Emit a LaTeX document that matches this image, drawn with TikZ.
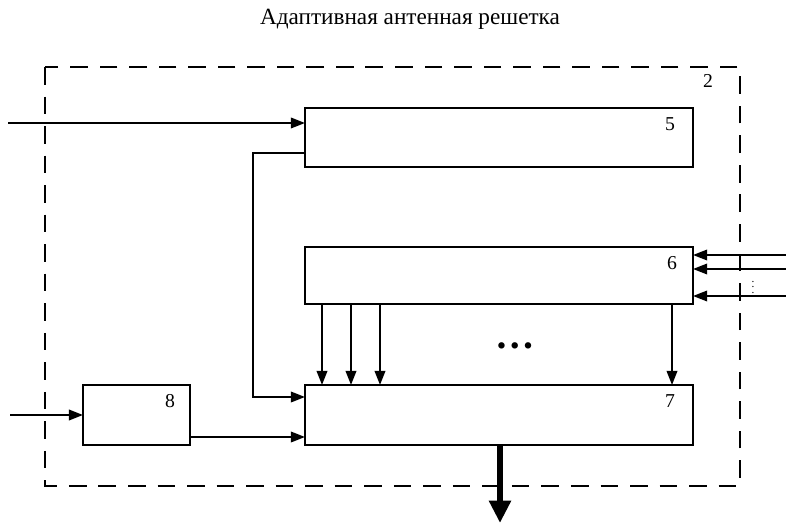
\documentclass[tikz,border=0pt]{standalone}
\usepackage{fontspec}
\setmainfont{Liberation Serif}
\usetikzlibrary{calc,arrows.meta}

\begin{document}
\begin{tikzpicture}[x=0.025cm,y=-0.025cm,
    blk/.style={draw,line width=1.4pt,inner sep=0pt,outer sep=0pt},
    num/.style={font=\fontsize{14}{16}\selectfont},
    arr/.style={line width=1.3pt,-{Triangle[length=10pt,width=7.5pt]}},
    bigarr/.style={line width=4pt,-{Triangle[length=16pt,width=15pt]}}]
    \useasboundingbox (0,0) rectangle (786,523);
    % title and dashed outline
    \node[font=\fontsize{16.5}{18}\selectfont] (title) at (410,19) {Адаптивная антенная решетка};
    \coordinate (frA) at (45,67);
    \coordinate (frB) at (740,486);
    \draw[line width=1.5pt,dash pattern=on 12.5pt off 8.5pt] (frA) rectangle (frB);
    \node[num] (n2) at (708,81) {2};
    % blocks
    \node[blk,minimum width=9.7cm,minimum height=1.475cm] (b5) at (499,137.5) {};
    \node[blk,minimum width=9.7cm,minimum height=1.425cm] (b6) at (499,275.5) {};
    \node[blk,minimum width=9.7cm,minimum height=1.5cm] (b7) at (499,415) {};
    \node[blk,minimum width=2.675cm,minimum height=1.5cm] (b8) at (136.5,415) {};
    \node[num] (n5) at (670,124) {5};
    \node[num] (n6) at (672,263) {6};
    \node[num] (n7) at (670,401) {7};
    \node[num] (n8) at (170,401) {8};
    % inputs
    \coordinate (in5) at (8,123);
    \coordinate (in8) at (10,415);
    \draw[arr] (in5) -- (in5 -| b5.west);
    \draw[arr] (in8) -- (b8.west);
    \foreach \y in {255,269,296}
      \draw[arr] (786,\y) -- (b6.east |- 0,\y);
    \node[font=\fontsize{8}{8}\selectfont,inner sep=0pt] (vd) at (753,283) {$\vdots$};
    % 5 -> 7 and 8 -> 7
    \coordinate (k1) at (253,153);
    \coordinate (k2) at (253,397);
    \draw[arr] (b5.west |- k1) -- (k1) -- (k2) -- (b7.west |- k2);
    \draw[arr] (b8.east |- 0,437) -- (b7.west |- 0,437);
    % 6 -> 7
    \foreach \x in {322,351,380,672}
      \draw[arr] (b6.south -| \x,0) -- (b7.north -| \x,0);
    \node[font=\fontsize{28}{28}\selectfont\bfseries] (dots) at (515,346) {…};
    % output
    \coordinate (out) at (500,523);
    \draw[bigarr] (b7.south -| out) -- (out);
\end{tikzpicture}
\end{document}
